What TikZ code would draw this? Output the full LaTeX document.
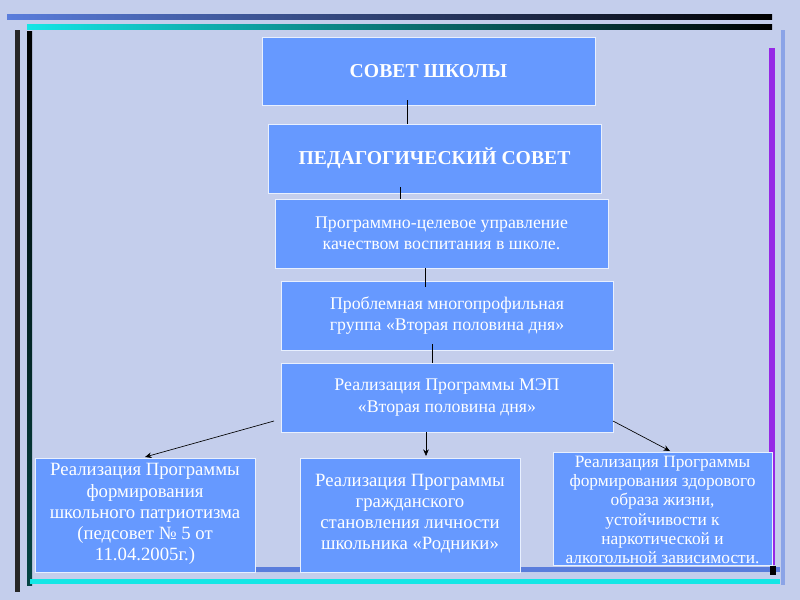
\documentclass[tikz,border=0pt]{standalone}
\usepackage{fontspec}
\setmainfont{Liberation Serif}
\definecolor{bg}{RGB}{196,206,236}
\definecolor{boxc}{RGB}{102,153,255}
\definecolor{frameblue}{RGB}{90,125,220}
\definecolor{cyanb}{RGB}{20,230,230}
\definecolor{purp}{RGB}{150,40,230}
\usetikzlibrary{arrows.meta}
\tikzset{
 bx/.style={fill=boxc,draw=white!85!boxc,line width=0.6pt},
 tx/.style={text=white,align=center,font=\fontsize{19}{23}\selectfont,inner sep=0pt},
 txb/.style={text=white,font=\fontsize{21}{24}\selectfont\bfseries,inner sep=0pt},
 ln/.style={draw=black,line width=0.7pt},
 ar/.style={ln,-{Stealth[length=7pt,width=6pt]}}
}
\begin{document}
\begin{tikzpicture}[x=0.0375cm,y=-0.0375cm]
\fill[bg] (0,0) rectangle (800,600);
\useasboundingbox (0,0) rectangle (800,600);
% frame
\shade[left color=frameblue,right color=black] (7,15) rectangle (772,20);
\shade[left color=cyanb,right color=black] (27,25) rectangle (772,30);
\fill[black!85] (15,30) rectangle (20,592);
\shade[top color=black,bottom color=black!70!cyanb] (27,32) rectangle (32,585);
\fill[purp] (769,48) rectangle (775,565);
\fill[frameblue!70] (781,30) rectangle (785,585);
\fill[frameblue] (35,567) rectangle (780,572);
\fill[cyanb] (30,579) rectangle (780,584);
\fill[black] (770,566) rectangle (776,575);
% boxes
\path[bx] (262,37) rectangle (595,105);
\node[txb] (t1) at (428.5,71) {СОВЕТ ШКОЛЫ};
\path[bx] (268,124) rectangle (601,193);
\node[txb] (t2) at (434.5,158.5) {ПЕДАГОГИЧЕСКИЙ СОВЕТ};
\path[bx] (275,199) rectangle (608,268);
\node[tx] (t3) at (441.5,233.5) {Программно-целевое управление\\качеством воспитания в школе.};
\path[bx] (281,281) rectangle (613,350);
\node[tx] (t4) at (447,315.5) {Проблемная многопрофильная\\группа «Вторая половина дня»};
\path[bx] (281,363) rectangle (613,432);
\node[tx] (t5) at (447,397.5) {Реализация Программы МЭП\\«Вторая половина дня»};
\path[bx] (35,458) rectangle (255,572);
\node[tx,font=\fontsize{20}{22.5}\selectfont] (t6) at (145,514) {Реализация Программы\\формирования\\школьного патриотизма\\(педсовет № 5 от\\11.04.2005г.)};
\path[bx] (300,458) rectangle (520,572);
\node[tx,font=\fontsize{20}{22.5}\selectfont] (t7) at (410,514) {Реализация Программы\\гражданского\\становления личности\\школьника «Родники»};
\path[bx] (553,452) rectangle (772,565);
\node[tx,font=\fontsize{18.5}{20.5}\selectfont] (t8) at (662.5,510) {Реализация Программы\\формирования здорового\\образа жизни,\\устойчивости к\\наркотической и\\алкогольной зависимости.};
% connectors
\coordinate (a1) at (407,100); \coordinate (b1) at (407,124);
\draw[ln] (a1) -- (b1);
\coordinate (a2) at (400,187); \coordinate (b2) at (400,199);
\draw[ln] (a2) -- (b2);
\coordinate (a3) at (425,268); \coordinate (b3) at (425,287);
\draw[ln] (a3) -- (b3);
\coordinate (a4) at (432,344); \coordinate (b4) at (432,363);
\draw[ln] (a4) -- (b4);
\coordinate (c1) at (274,421); \coordinate (d1) at (145,457);
\draw[ar] (c1) -- (d1);
\coordinate (c2) at (426,432); \coordinate (d2) at (426,456);
\draw[ar] (c2) -- (d2);
\coordinate (c3) at (613,421); \coordinate (d3) at (670,451);
\draw[ar] (c3) -- (d3);
\end{tikzpicture}
\end{document}
